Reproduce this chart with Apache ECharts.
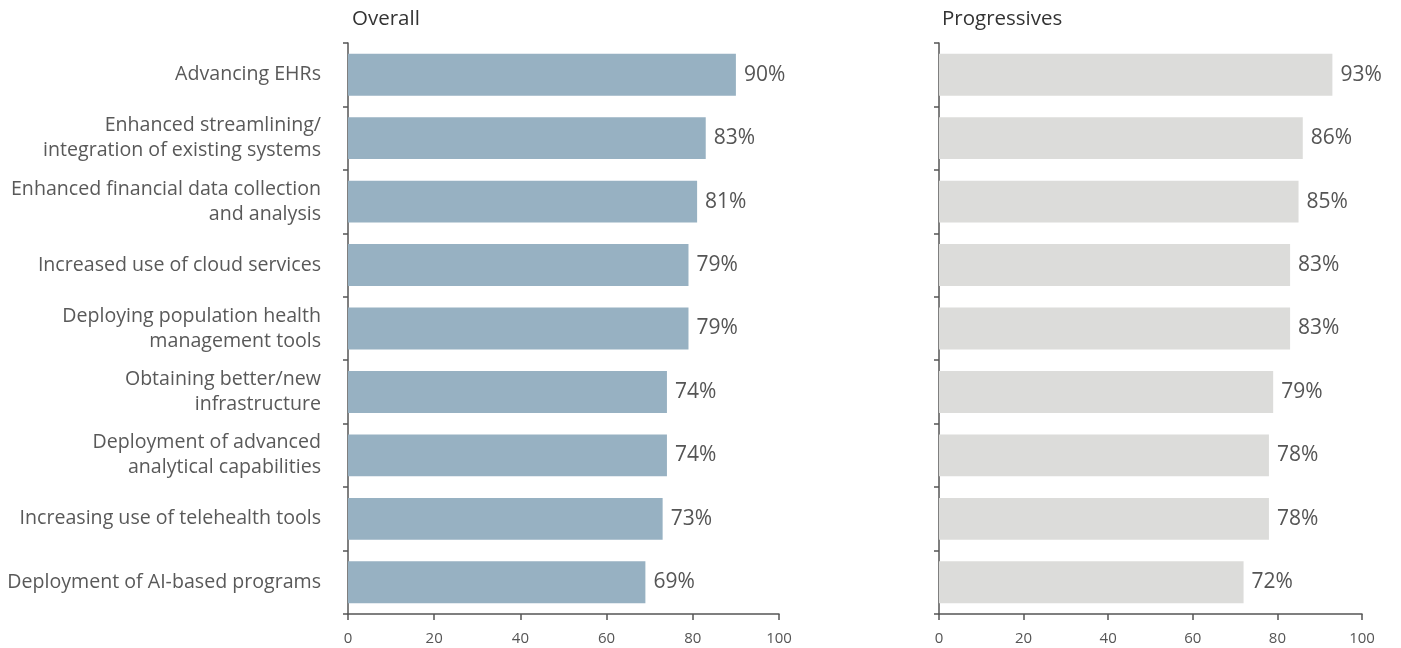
<!DOCTYPE html>
<html>
<head>
<meta charset="utf-8">
<script src="https://cdn.jsdelivr.net/npm/echarts@6/dist/echarts.min.js"></script>
<style>
  html, body { margin: 0; padding: 0; background: #fff; }
  #chart { width: 1401px; height: 648px; }
</style>
</head>
<body>
<div id="chart"></div>
<script>
// Priorities, listed top to bottom
const categories = [
  'Advancing EHRs',
  'Enhanced streamlining/\nintegration of existing systems',
  'Enhanced financial data collection\nand analysis',
  'Increased use of cloud services',
  'Deploying population health\nmanagement tools',
  'Obtaining better/new\ninfrastructure',
  'Deployment of advanced\nanalytical capabilities',
  'Increasing use of telehealth tools',
  'Deployment of AI-based programs'
];
const overallValues = [90, 83, 81, 79, 79, 74, 74, 73, 69];
const progressiveValues = [93, 86, 85, 83, 83, 79, 78, 78, 72];
const panelTitles = ['Overall', 'Progressives'];
const xTicks = [0, 20, 40, 60, 80, 100];

const FONT = '"Open Sans", "Noto Sans", sans-serif';
const AXIS_COLOR = '#555555';

// category axis runs top-down, so reverse for ECharts' bottom-up order
const cats = categories.slice().reverse();

function yAxis(idx, showLabels) {
  return {
    type: 'category',
    gridIndex: idx,
    data: cats,
    boundaryGap: true,
    axisLine: { show: true, lineStyle: { color: AXIS_COLOR, width: 1.5 } },
    axisTick: { show: true, length: 5, lineStyle: { color: AXIS_COLOR, width: 1.5 } },
    axisLabel: {
      show: showLabels,
      margin: 27,
      fontFamily: FONT,
      fontSize: 19.6,
      color: '#595959',
      lineHeight: 25,
      align: 'right'
    }
  };
}

function xAxis(idx) {
  return {
    type: 'value',
    gridIndex: idx,
    min: xTicks[0],
    max: xTicks[xTicks.length - 1],
    interval: xTicks[1] - xTicks[0],
    splitLine: { show: false },
    axisLine: { show: true, onZero: false, lineStyle: { color: AXIS_COLOR, width: 1.5 } },
    axisTick: { show: true, length: 6, lineStyle: { color: AXIS_COLOR, width: 1.5 } },
    axisLabel: { fontFamily: FONT, fontSize: 15, color: '#555', margin: 17 }
  };
}

function barSeries(idx, values, color) {
  return {
    type: 'bar',
    xAxisIndex: idx,
    yAxisIndex: idx,
    data: values.slice().reverse(),
    barCategoryGap: '34%',
    itemStyle: { color: color },
    label: {
      show: true,
      position: 'right',
      distance: 8,
      formatter: '{c}%',
      fontFamily: FONT,
      fontSize: 21,
      color: '#555555'
    },
    silent: true,
    animation: false
  };
}

const chart = echarts.init(document.getElementById('chart'), null, { renderer: 'canvas' });
chart.setOption({
  animation: false,
  title: [
    { text: panelTitles[0], left: 347, top: 4,
      textStyle: { fontFamily: FONT, fontSize: 20.5, fontWeight: 'normal', color: '#333' } },
    { text: panelTitles[1], left: 937, top: 4,
      textStyle: { fontFamily: FONT, fontSize: 20.5, fontWeight: 'normal', color: '#333' } }
  ],
  grid: [
    { left: 348, width: 431, top: 43, height: 571 },
    { left: 939, width: 423, top: 43, height: 571 }
  ],
  xAxis: [xAxis(0), xAxis(1)],
  yAxis: [yAxis(0, true), yAxis(1, false)],
  series: [
    barSeries(0, overallValues, '#97b1c2'),
    barSeries(1, progressiveValues, '#dcdcda')
  ]
});
</script>
</body>
</html>
